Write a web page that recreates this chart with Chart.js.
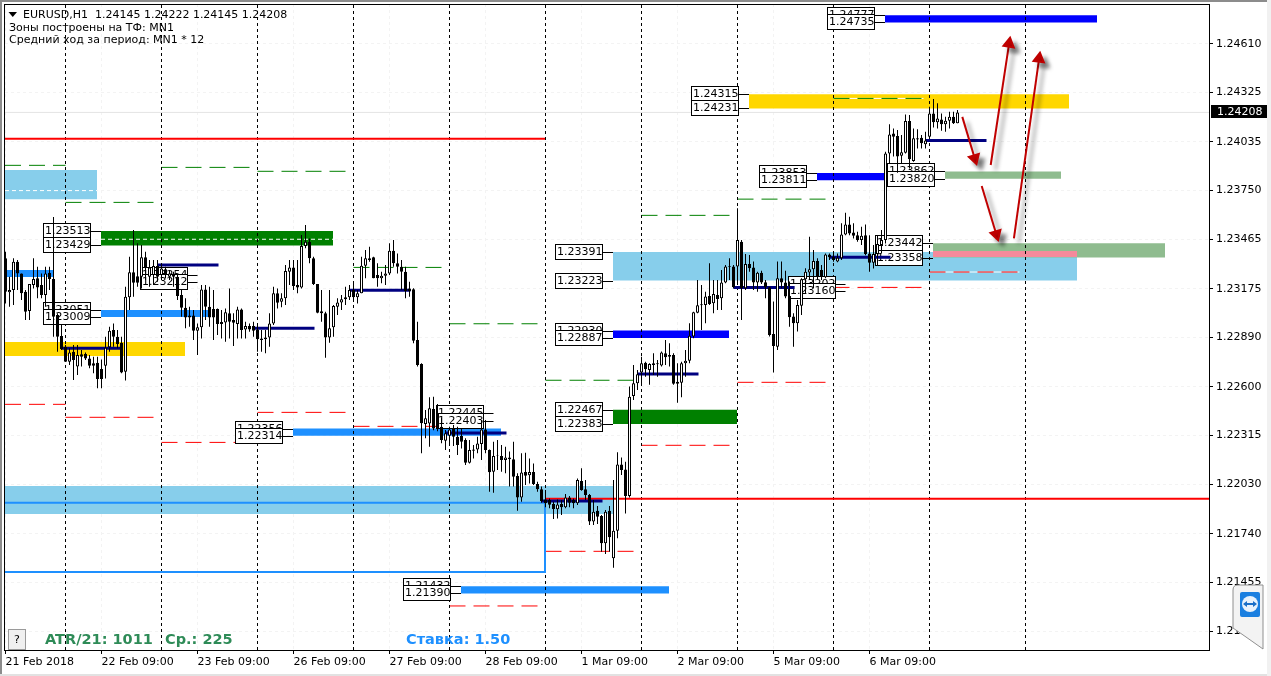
<!DOCTYPE html>
<html>
<head>
<meta charset="utf-8">
<title>EURUSD,H1</title>
<script src="https://cdn.jsdelivr.net/npm/chart.js@4/dist/chart.umd.min.js"></script>
<style>
    html, body { margin: 0; padding: 0; background: #fff; overflow: hidden; }
    #chart { position: absolute; left: 0; top: 0; }
    .edge { position: absolute; }
    #widget { position: absolute; left: 1230px; top: 582px; }
</style>
</head>
<body>
<canvas id="chart" width="1271" height="676"></canvas>
<div class="edge" style="left:0;top:0;width:2px;height:676px;background:#8c8c8c"></div>
<div class="edge" style="left:0;top:0;width:1271px;height:2px;background:#8c8c8c"></div>
<div class="edge" style="left:0;top:674px;width:1271px;height:2px;background:#e2e2e2"></div>
<div class="edge" style="left:1267px;top:0;width:4px;height:676px;background:#f1f1f1"></div>
<svg id="widget" width="36" height="70" viewBox="0 0 36 70">
    <path d="M3 8 Q3 3 8 3 L33 3 L33 67 L16 55 L3 46 Z" fill="#f3f3f3" stroke="#8f8f8f" stroke-width="1"/>
    <rect x="10" y="10" width="20" height="25" rx="2" fill="#1a7fe0"/>
    <circle cx="20" cy="22" r="8" fill="#e8f2fc"/>
    <path d="M13 22 L17 19 L17 21 L23 21 L23 19 L27 22 L23 25 L23 23 L17 23 L17 25 Z" fill="#1a6fc8"/>
</svg>
<script>
const symbolTitle = 'EURUSD,H1  1.24145 1.24222 1.24145 1.24208';
const zoneNote = 'Зоны построены на ТФ: MN1';
const rangeNote = 'Средний ход за период: MN1 * 12';
const atrText = 'ATR/21: 1011';
const avgText = 'Ср.: 225';
const rateText = 'Ставка: 1.50';
const currentPrice = 1.24208;

const priceTicks = [1.24610, 1.24325, 1.24035, 1.23750, 1.23465, 1.23175, 1.22890, 1.22600, 1.22315, 1.22030, 1.21740, 1.21455, 1.21170];
const dateBars = [0, 24, 48, 72, 96, 120, 144, 168, 192, 216];
const dateLabels = ['21 Feb 2018', '22 Feb 09:00', '23 Feb 09:00', '26 Feb 09:00', '27 Feb 09:00', '28 Feb 09:00', '1 Mar 09:00', '2 Mar 09:00', '5 Mar 09:00', '6 Mar 09:00'];
const sessionBars = [15, 39, 63, 87, 111, 135, 159, 183, 207, 231, 255];

const opens = [
    1.23353,1.23154,1.23168,1.23333,1.23265,1.23158,1.23045,1.23197,1.23236,1.23197,1.23138,1.23269,
    1.23232,1.23021,1.22898,1.22836,1.22748,1.22806,1.22719,1.22791,1.22793,1.22767,1.22738,1.22742,
    1.22705,1.22724,1.22832,1.22933,1.22894,1.22859,1.22689,1.23125,1.23271,1.23249,1.23246,1.23359,
    1.23246,1.23255,1.23308,1.23255,1.23289,1.23246,1.23265,1.23246,1.23138,1.23064,1.23007,1.23019,
    1.22929,1.22949,1.23171,1.23070,1.23056,1.23056,1.22980,1.22978,1.23031,1.22992,1.22968,1.23054,
    1.22937,1.22957,1.22957,1.22937,1.22884,1.22879,1.22890,1.22972,1.23148,1.23099,1.23119,1.23275,
    1.23300,1.23197,1.23183,1.23425,1.23451,1.23353,1.23203,1.23043,1.23031,1.22890,1.22949,1.23070,
    1.23095,1.23113,1.23125,1.23168,1.23125,1.23148,1.23310,1.23343,1.23359,1.23255,1.23236,1.23251,
    1.23265,1.23398,1.23324,1.23304,1.23275,1.23177,1.23172,1.22875,1.22735,1.22383,1.22386,1.22471,
    1.22446,1.22367,1.22285,1.22314,1.22357,1.22308,1.22312,1.22289,1.22156,1.22226,1.22234,1.22265,
    1.22351,1.22230,1.22103,1.22195,1.22195,1.22172,1.22187,1.22176,1.22078,1.21953,1.22102,1.22082,
    1.22102,1.22031,1.22000,1.21941,1.21938,1.21914,1.21883,1.21914,1.21895,1.21953,1.21938,1.21918,
    1.22049,1.22000,1.21967,1.21811,1.21875,1.21844,1.21684,1.21875,1.21596,1.21758,1.22146,1.22117,
    1.21961,1.22547,1.22621,1.22684,1.22742,1.22699,1.22739,1.22733,1.22725,1.22797,1.22787,1.22787,
    1.22631,1.22625,1.22739,1.22754,1.22895,1.23035,1.23078,1.23080,1.23133,1.23090,1.23139,1.23119,
    1.23211,1.23303,1.23305,1.23305,1.23451,1.23178,1.23320,1.23299,1.23211,1.23269,1.23213,1.23184,
    1.22910,1.22836,1.23236,1.23211,1.23133,1.23012,1.22973,1.23076,1.23230,1.23270,1.23289,1.23338,
    1.23285,1.23242,1.23376,1.23363,1.23335,1.23353,1.23493,1.23552,1.23505,1.23489,1.23460,1.23489,
    1.23382,1.23327,1.23378,1.23431,1.23460,1.23968,1.24085,1.24070,1.23954,1.23972,1.24157,1.23923,
    1.24056,1.24060,1.24021,1.24066,1.24202,1.24150,1.24167,1.24138,1.24159,1.24183,1.24145
];
const highs = [
    1.23392,1.23246,1.23353,1.23343,1.23265,1.23168,1.23203,1.23353,1.23304,1.23265,1.23304,1.23304,
    1.23595,1.23031,1.22963,1.22845,1.22826,1.22845,1.22845,1.22816,1.22801,1.22787,1.22777,1.22777,
    1.22760,1.22894,1.22953,1.22972,1.22933,1.22894,1.23187,1.23363,1.23519,1.23441,1.23431,1.23392,
    1.23343,1.23343,1.23343,1.23324,1.23304,1.23285,1.23275,1.23255,1.23168,1.23119,1.23070,1.23050,
    1.22972,1.23197,1.23197,1.23187,1.23168,1.23060,1.23050,1.23060,1.23177,1.23031,1.23070,1.23060,
    1.22982,1.22972,1.22982,1.22972,1.22933,1.22933,1.23031,1.23187,1.23177,1.23148,1.23314,1.23343,
    1.23343,1.23343,1.23490,1.23548,1.23470,1.23363,1.23203,1.23168,1.23041,1.23168,1.23080,1.23119,
    1.23138,1.23187,1.23197,1.23207,1.23168,1.23363,1.23402,1.23421,1.23363,1.23324,1.23275,1.23314,
    1.23441,1.23460,1.23382,1.23343,1.23304,1.23216,1.23178,1.22982,1.22739,1.22465,1.22540,1.22543,
    1.22500,1.22420,1.22347,1.22367,1.22377,1.22367,1.22357,1.22299,1.22289,1.22260,1.22308,1.22406,
    1.22406,1.22234,1.22279,1.22289,1.22260,1.22250,1.22221,1.22279,1.22094,1.22211,1.22215,1.22181,
    1.22152,1.22045,1.22016,1.21996,1.21947,1.21928,1.21941,1.21938,1.21973,1.21961,1.21947,1.22064,
    1.22123,1.22055,1.21973,1.21938,1.21902,1.21850,1.21879,1.21902,1.22055,1.22217,1.22187,1.22162,
    1.22602,1.22729,1.22699,1.22777,1.22748,1.22739,1.22797,1.22758,1.22807,1.22875,1.22856,1.22797,
    1.22739,1.22748,1.22817,1.22973,1.23041,1.23226,1.23197,1.23158,1.23324,1.23226,1.23226,1.23285,
    1.23314,1.23353,1.23314,1.23646,1.23461,1.23379,1.23373,1.23334,1.23275,1.23281,1.23226,1.23187,
    1.23100,1.23334,1.23334,1.23281,1.23217,1.23031,1.23109,1.23236,1.23295,1.23480,1.23402,1.23353,
    1.23314,1.23382,1.23382,1.23392,1.23382,1.23558,1.23620,1.23597,1.23558,1.23509,1.23538,1.23552,
    1.23489,1.23431,1.23489,1.23519,1.23978,1.24138,1.24114,1.24105,1.24075,1.24196,1.24193,1.24114,
    1.24109,1.24075,1.24095,1.24241,1.24286,1.24261,1.24202,1.24183,1.24212,1.24212,1.24222
];
const lows = [
    1.23089,1.23070,1.23080,1.23168,1.23109,1.22992,1.22992,1.23177,1.23119,1.23119,1.23070,1.23168,
    1.22894,1.22806,1.22816,1.22748,1.22728,1.22640,1.22670,1.22719,1.22758,1.22709,1.22680,1.22592,
    1.22592,1.22650,1.22806,1.22836,1.22826,1.22680,1.22637,1.23050,1.23128,1.23187,1.23177,1.23226,
    1.23187,1.23197,1.23216,1.23226,1.23236,1.23226,1.23187,1.23109,1.23011,1.22943,1.22953,1.22875,
    1.22787,1.22884,1.22992,1.22953,1.22875,1.22904,1.22884,1.22865,1.22884,1.22840,1.22884,1.22884,
    1.22884,1.22923,1.22894,1.22806,1.22806,1.22797,1.22836,1.22963,1.23060,1.23066,1.23080,1.23197,
    1.23168,1.23148,1.23177,1.23412,1.23324,1.23197,1.23031,1.22982,1.22771,1.22859,1.22894,1.23021,
    1.23050,1.23080,1.23109,1.23109,1.23089,1.23148,1.23236,1.23333,1.23236,1.23187,1.23207,1.23197,
    1.23255,1.23304,1.23265,1.23168,1.23119,1.23128,1.22856,1.22719,1.22211,1.22299,1.22250,1.22346,
    1.22340,1.22270,1.22230,1.22254,1.22254,1.22201,1.22240,1.22142,1.22152,1.22181,1.22211,1.22172,
    1.22211,1.21986,1.21980,1.22113,1.22103,1.22094,1.22016,1.22016,1.21875,1.21928,1.22025,1.22035,
    1.22025,1.21986,1.21922,1.21895,1.21889,1.21826,1.21830,1.21850,1.21889,1.21895,1.21889,1.21908,
    1.21992,1.21938,1.21791,1.21791,1.21797,1.21635,1.21621,1.21635,1.21541,1.21713,1.22084,1.21859,
    1.21953,1.22524,1.22582,1.22612,1.22660,1.22612,1.22670,1.22660,1.22719,1.22729,1.22719,1.22612,
    1.22508,1.22539,1.22660,1.22739,1.22885,1.23031,1.22934,1.22973,1.23080,1.23031,1.23051,1.23051,
    1.23207,1.23226,1.23178,1.23197,1.22992,1.23168,1.23275,1.23168,1.23158,1.23203,1.23119,1.22895,
    1.22684,1.22817,1.23178,1.23119,1.22953,1.22836,1.22924,1.23022,1.23148,1.23226,1.23178,1.23226,
    1.23226,1.23236,1.23343,1.23333,1.23331,1.23343,1.23489,1.23489,1.23470,1.23450,1.23431,1.23372,
    1.23275,1.23294,1.23314,1.23382,1.23440,1.23910,1.23949,1.23855,1.23910,1.23968,1.23880,1.23919,
    1.23997,1.23997,1.23997,1.24062,1.24120,1.24114,1.24101,1.24095,1.24114,1.24140,1.24145
];
const closes = [
    1.23158,1.23168,1.23333,1.23265,1.23148,1.23041,1.23203,1.23232,1.23183,1.23138,1.23265,1.23232,
    1.23011,1.22894,1.22822,1.22748,1.22802,1.22758,1.22787,1.22777,1.22767,1.22724,1.22724,1.22646,
    1.22646,1.22830,1.22929,1.22894,1.22851,1.22685,1.23128,1.23271,1.23210,1.23210,1.23359,1.23300,
    1.23300,1.23308,1.23246,1.23294,1.23255,1.23265,1.23246,1.23132,1.23064,1.23007,1.23019,1.22929,
    1.22949,1.23171,1.23070,1.23007,1.23007,1.22968,1.22968,1.23037,1.22982,1.22976,1.23054,1.22933,
    1.22957,1.22937,1.22929,1.22879,1.22875,1.22890,1.22972,1.23148,1.23093,1.23119,1.23279,1.23300,
    1.23191,1.23183,1.23425,1.23451,1.23353,1.23203,1.23035,1.23031,1.22890,1.22943,1.23074,1.23095,
    1.23113,1.23125,1.23168,1.23125,1.23148,1.23310,1.23353,1.23353,1.23236,1.23236,1.23251,1.23265,
    1.23398,1.23324,1.23304,1.23275,1.23162,1.23162,1.22871,1.22729,1.22387,1.22416,1.22475,1.22357,
    1.22357,1.22289,1.22328,1.22351,1.22308,1.22260,1.22279,1.22156,1.22230,1.22234,1.22269,1.22351,
    1.22230,1.22100,1.22195,1.22199,1.22172,1.22187,1.22176,1.22074,1.21953,1.22098,1.22080,1.22102,
    1.22031,1.22000,1.21932,1.21918,1.21910,1.21885,1.21912,1.21895,1.21953,1.21922,1.21918,1.22055,
    1.21996,1.21967,1.21811,1.21869,1.21840,1.21684,1.21869,1.21719,1.21758,1.22146,1.22113,1.21961,
    1.22543,1.22621,1.22674,1.22738,1.22703,1.22735,1.22729,1.22739,1.22801,1.22774,1.22777,1.22618,
    1.22618,1.22739,1.22754,1.22900,1.23037,1.23078,1.23084,1.23129,1.23086,1.23144,1.23115,1.23211,
    1.23305,1.23307,1.23184,1.23461,1.23178,1.23320,1.23295,1.23211,1.23269,1.23211,1.23184,1.22904,
    1.22840,1.23236,1.23211,1.23129,1.23008,1.22973,1.23080,1.23230,1.23275,1.23289,1.23338,1.23246,
    1.23245,1.23376,1.23359,1.23343,1.23357,1.23493,1.23552,1.23499,1.23486,1.23460,1.23486,1.23378,
    1.23327,1.23378,1.23437,1.23460,1.23968,1.24079,1.24066,1.23949,1.23974,1.24157,1.23933,1.24056,
    1.24050,1.24027,1.24044,1.24202,1.24150,1.24173,1.24138,1.24159,1.24183,1.24144,1.24208
];

// zones: [first bar, last bar, top price, bottom price]
const skyZones = [[-0.125, 22.875, 1.23870, 1.23700], [-0.125, 151.875, 1.22020, 1.21855], [151.875, 267.875, 1.23391, 1.23223]];
const dodgerZones = [[0.125, 11.875, 1.23285, 1.23244], [23.875, 51.125, 1.23051, 1.23009], [71.875, 123.875, 1.22356, 1.22314], [113.875, 165.875, 1.21432, 1.21390]];
const blueZones = [[151.875, 180.875, 1.22930, 1.22887], [202.875, 219.875, 1.23853, 1.23811], [219.875, 272.875, 1.24777, 1.24735]];
const greenZones = [[23.875, 81.875, 1.23513, 1.23429], [151.875, 182.875, 1.22467, 1.22383]];
const goldZones = [[-0.125, 44.875, 1.22863, 1.22781], [185.875, 265.875, 1.24315, 1.24231]];
const sageZones = [[234.875, 263.875, 1.23862, 1.23820], [231.875, 289.875, 1.23442, 1.23358]];
const pinkZones = [[231.875, 267.875, 1.23396, 1.23361]];

// dashed daily levels: [first bar, last bar, price]
const greenLevels = [[-0.125, 15, 1.23898], [15, 37.5, 1.23681], [39, 61.5, 1.23886], [63, 85.5, 1.23863], [87, 109.5, 1.23300], [111, 133.5, 1.22970], [135, 157.5, 1.22639], [159, 181.5, 1.23605], [183, 205.5, 1.23700], [207, 229.5, 1.24290]];
const redLevels = [[-0.125, 15, 1.22498], [15, 37.5, 1.22422], [39, 61.5, 1.22275], [63, 85.5, 1.22451], [87, 109.5, 1.22369], [111, 133.5, 1.21317], [135, 157.5, 1.21637], [159, 181.5, 1.22258], [183, 205.5, 1.22627], [207, 229.5, 1.23183], [231, 253.5, 1.23273]];
const navyLevels = [[14, 29.25, 1.22826], [38, 53.25, 1.23314], [62, 77.25, 1.22943], [86, 101.25, 1.23166], [110, 125.25, 1.22330], [134, 149.25, 1.21932], [158, 173.25, 1.22676], [182, 197.25, 1.23183], [206, 221.25, 1.23359], [230, 245.25, 1.24044]];
const solidRedLevels = [[-0.125, 134.875, 1.24054], [134.875, 300.875, 1.21945]];
const gridOverZones = [[-0.125, 22.875, 1.23750], [23.875, 81.875, 1.23465]];
const whiteUnderLevels = [[207, 229.5, 1.24290], [231, 253.5, 1.23273]];

// outline of the old range: bar and price of each corner
const rangeBars = [-0.125, 134.875, 134.875, -0.125];
const rangePrices = [1.21922, 1.21922, 1.21516, 1.21516];

// price tags: text, price, bar the connector runs to
const tagTexts = ['1.23513', '1.23429', '1.23051', '1.23009', '1.23254', '1.23212', '1.22356', '1.22314', '1.22445', '1.22403', '1.21432', '1.21390', '1.23391', '1.23223', '1.22930', '1.22887', '1.22467', '1.22383', '1.23202', '1.23160', '1.23442', '1.23358', '1.23853', '1.23811', '1.23862', '1.23820', '1.24315', '1.24231', '1.24777', '1.24735'];
const tagBars = [23.875, 23.875, 23.875, 23.875, 48, 48, 71.875, 71.875, 122, 122, 113.875, 113.875, 151.875, 151.875, 151.875, 151.875, 151.875, 151.875, 210, 210, 231.875, 231.875, 202.875, 202.875, 234.875, 234.875, 185.875, 185.875, 219.875, 219.875];

// hand drawn arrows: tail and head
const arrowBars = [[239.2, 242.3], [246.3, 250.9], [244.05, 247.7], [252.1, 258.4]];
const arrowPrices = [[1.24182, 1.23939], [1.23900, 1.24611], [1.23777, 1.23494], [1.23470, 1.24523]];
const arrowTurns = [163, 9, 163, 8];

const datasets = [];

function add(ds) {
    ds.order = -datasets.length;
    datasets.push(ds);
}

function level(from, to, price, color, width, dash) {
    add({
        type: 'line',
        data: [{ x: from, y: price }, { x: to, y: price }],
        borderColor: color,
        borderWidth: width,
        borderDash: dash || [],
        pointRadius: 0,
        tension: 0
    });
}

function zones(list, color) {
    list.forEach(z => {
        add({
            type: 'line',
            data: [{ x: z[0], y: z[2] }, { x: z[1], y: z[2] }],
            borderWidth: 0,
            pointRadius: 0,
            backgroundColor: color,
            fill: { target: { value: z[3] }, above: color, below: color }
        });
    });
}

zones(skyZones, '#87CEEB');
zones(sageZones, '#8FBC8F');
zones(pinkZones, '#F48A9B');
zones(goldZones, '#FFD700');
zones(greenZones, '#008000');
zones(dodgerZones, '#1E90FF');
zones(blueZones, '#0000FF');

gridOverZones.forEach(l => level(l[0], l[1], l[2], '#ffffff', 1, [4, 3]));
whiteUnderLevels.forEach(l => level(l[0], l[1], l[2], '#ffffff', 1));
greenLevels.forEach(l => level(l[0], l[1], l[2], '#008000', 1, [16, 8]));
redLevels.forEach(l => level(l[0], l[1], l[2], '#ff0000', 1, [16, 8]));

// session separators
sessionBars.forEach(bar => {
    add({
        type: 'line',
        data: [{ x: bar, y: 1.21059 }, { x: bar, y: 1.24843 }],
        borderColor: '#000',
        borderWidth: 1,
        borderDash: [3, 3],
        pointRadius: 0
    });
});

level(-0.125, 300.875, currentPrice, '#e4e4e4', 1);

add({
    type: 'line',
    data: rangeBars.map((bar, i) => ({ x: bar, y: rangePrices[i] })),
    borderColor: '#1E90FF',
    borderWidth: 2,
    pointRadius: 0,
    tension: 0
});
solidRedLevels.forEach(l => level(l[0], l[1], l[2], '#ff0000', 2));

const firstNavy = datasets.length;
navyLevels.forEach(l => level(l[0], l[1], l[2], '#000080', 3));
datasets[firstNavy].tagLayer = true;

add({
    type: 'bar',
    data: opens.map((o, i) => ({ x: i, y: [lows[i], highs[i]] })),
    backgroundColor: '#000',
    borderWidth: 0,
    barThickness: 1,
    grouped: false,
    inflateAmount: 0
});
add({
    type: 'bar',
    data: opens.map((o, i) => ({ x: i, y: [o, closes[i]] })),
    backgroundColor: opens.map((o, i) => closes[i] >= o ? '#fff' : '#000'),
    borderColor: '#000',
    borderWidth: 1,
    borderSkipped: false,
    barThickness: 3,
    grouped: false,
    inflateAmount: 0
});

arrowBars.forEach((bars, i) => {
    add({
        type: 'line',
        data: bars.map((bar, j) => ({ x: bar, y: arrowPrices[i][j] })),
        borderColor: '#C00000',
        borderWidth: 2,
        pointRadius: [0, 6],
        pointStyle: 'triangle',
        pointRotation: [0, arrowTurns[i]],
        pointBackgroundColor: '#C00000',
        pointBorderColor: '#C00000',
        tension: 0,
        arrow: true
    });
});

function drawTag(ctx, x, y, text) {
    const right = x - 10;
    const left = right - 48;
    ctx.strokeStyle = '#000';
    ctx.lineWidth = 1;
    ctx.beginPath();
    ctx.moveTo(right, Math.round(y) + 0.5);
    ctx.lineTo(x, Math.round(y) + 0.5);
    ctx.stroke();
    ctx.fillStyle = '#fff';
    ctx.fillRect(Math.round(left), Math.round(y) - 8, 48, 16);
    ctx.strokeRect(Math.round(left) + 0.5, Math.round(y) - 7.5, 47, 15);
    ctx.fillStyle = '#000';
    ctx.font = '11px "DejaVu Sans"';
    ctx.textAlign = 'left';
    ctx.textBaseline = 'middle';
    ctx.fillText(text, Math.round(left) + 2, Math.round(y) + 0.5);
}

const overlay = {
    id: 'overlay',
    beforeDatasetDraw(chart, args) {
        const ds = chart.data.datasets[args.index];
        const ctx = chart.ctx;
        if (ds.tagLayer) {
            ctx.save();
            tagTexts.forEach((text, i) => {
                drawTag(ctx, chart.scales.x.getPixelForValue(tagBars[i]), chart.scales.y.getPixelForValue(parseFloat(text)), text);
            });
            ctx.restore();
        }
        if (ds.arrow) {
            ctx.save();
            ctx.shadowColor = 'rgba(0,0,0,0.45)';
            ctx.shadowBlur = 4;
            ctx.shadowOffsetX = 5;
            ctx.shadowOffsetY = 5;
        }
    },
    afterDatasetDraw(chart, args) {
        if (chart.data.datasets[args.index].arrow) chart.ctx.restore();
    },
    afterDraw(chart) {
        const ctx = chart.ctx;
        const area = chart.chartArea;
        ctx.save();
        ctx.strokeStyle = '#000';
        ctx.lineWidth = 1;
        ctx.strokeRect(area.left - 0.5, area.top + 0.5, area.right - area.left + 1, area.bottom - area.top);

        ctx.fillStyle = '#000';
        ctx.beginPath();
        ctx.moveTo(8.5, 12);
        ctx.lineTo(17, 12);
        ctx.lineTo(12.75, 17);
        ctx.closePath();
        ctx.fill();

        ctx.font = '11px "DejaVu Sans"';
        ctx.textAlign = 'left';
        ctx.textBaseline = 'middle';
        ctx.fillText(symbolTitle, 23, 15);
        ctx.fillText(zoneNote, 9, 28);
        ctx.fillText(rangeNote, 9, 40);

        // last price tag
        const y = chart.scales.y.getPixelForValue(currentPrice);
        ctx.fillStyle = '#000';
        ctx.fillRect(1211, Math.round(y) - 7, 56, 13);
        ctx.fillStyle = '#fff';
        ctx.fillText(currentPrice.toFixed(5), 1217, Math.round(y));

        // help button
        ctx.fillStyle = '#f0f0f0';
        ctx.fillRect(8, 629, 18, 20);
        ctx.strokeStyle = '#9a9a9a';
        ctx.strokeRect(8.5, 629.5, 17, 20);
        ctx.fillStyle = '#000';
        ctx.textAlign = 'center';
        ctx.fillText('?', 17, 640);

        ctx.textAlign = 'left';
        ctx.font = 'bold 14.5px "DejaVu Sans"';
        ctx.fillStyle = '#2E8B57';
        ctx.fillText(atrText, 45, 640);
        ctx.fillText(avgText, 165, 640);
        ctx.fillStyle = '#1E90FF';
        ctx.fillText(rateText, 406, 640);
        ctx.restore();
    }
};

new Chart(document.getElementById('chart'), {
    type: 'bar',
    data: { datasets: datasets },
    plugins: [overlay],
    options: {
        responsive: false,
        animation: false,
        layout: { autoPadding: false, padding: { left: 5, top: 4, right: 0, bottom: 0 } },
        plugins: { legend: { display: false }, tooltip: { enabled: false }, title: { display: false } },
        scales: {
            x: {
                type: 'linear',
                offset: false,
                min: -0.125,
                max: 300.875,
                afterBuildTicks: scale => { scale.ticks = dateBars.map(v => ({ value: v })); },
                afterFit: scale => { scale.height = 26; scale.paddingLeft = 0; scale.paddingRight = 0; },
                border: { display: false, dash: [3, 3] },
                grid: { offset: false, color: '#f3f3f3', tickColor: '#000', tickLength: 4 },
                ticks: {
                    autoSkip: false,
                    maxRotation: 0,
                    align: 'start',
                    padding: 2,
                    color: '#000',
                    font: { family: 'DejaVu Sans', size: 11 },
                    callback: (v, i) => dateLabels[i]
                }
            },
            y: {
                position: 'right',
                min: 1.21059,
                max: 1.24843,
                afterBuildTicks: scale => { scale.ticks = priceTicks.map(v => ({ value: v })); },
                afterFit: scale => { scale.width = 62; scale.paddingTop = 0; scale.paddingBottom = 0; },
                border: { display: false, dash: [3, 3] },
                grid: { color: '#f3f3f3', tickColor: '#000', tickLength: 4 },
                ticks: {
                    autoSkip: false,
                    padding: 3,
                    color: '#000',
                    font: { family: 'DejaVu Sans', size: 11 },
                    callback: v => v.toFixed(5)
                }
            }
        }
    }
});
</script>
</body>
</html>
